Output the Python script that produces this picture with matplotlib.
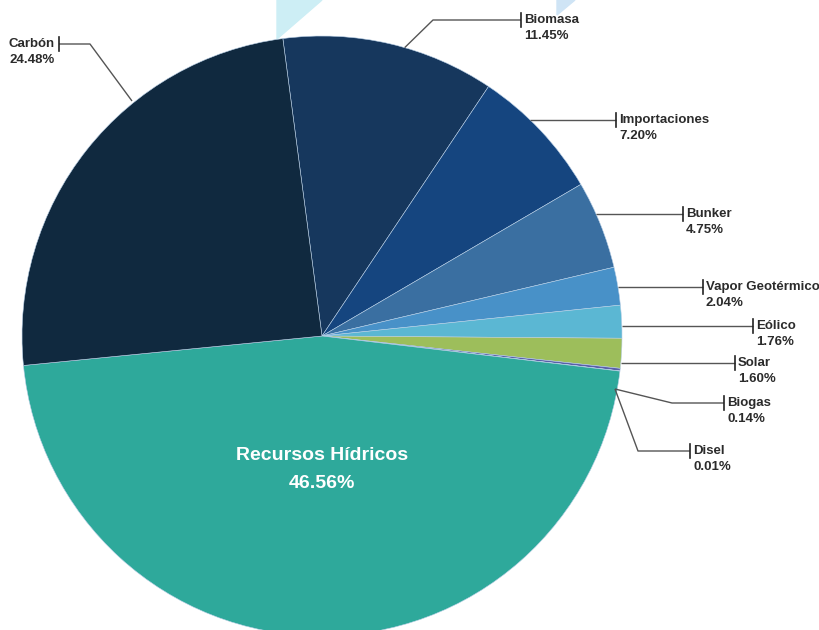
import numpy as np
import matplotlib.pyplot as plt
from matplotlib.patches import Polygon

# Generation mix shares (%)
labels = ['Biomasa', 'Importaciones', 'Bunker', 'Vapor Geotérmico', 'Eólico',
          'Solar', 'Biogas', 'Disel', 'Recursos Hídricos', 'Carbón']
values = [11.45, 7.20, 4.75, 2.04, 1.76, 1.60, 0.14, 0.01, 46.56, 24.48]
colors = ['#16375d', '#15457f', '#3a6fa1', '#4891c8', '#5bb7d3',
          '#9dbe5b', '#5a5fa8', '#3f6fa0', '#2ea99b', '#10293f']

W, H = 819, 630
CX, CY, R = 322, 336, 300   # pie centre / radius in pixels (y from top)
START = 97.5


def py(y):
    # pixel row (from top) -> data y
    return H - y


fig = plt.figure(figsize=(W / 100, H / 100), dpi=100)
ax = fig.add_axes([0, 0, 1, 1])

# light cyan decorations behind the pie
ax.add_patch(Polygon([(277, py(0)), (277, py(39)), (322, py(0))],
                     closed=True, color='#cdeef5', zorder=0))
ax.add_patch(Polygon([(557, py(0)), (557, py(15)), (575, py(0))],
                     closed=True, color='#cfe4f5', zorder=0))

wedges, _ = ax.pie(values, colors=colors, startangle=START, counterclock=False,
                   center=(CX, py(CY)), radius=R, frame=True,
                   wedgeprops=dict(edgecolor='#b8cfe6', linewidth=0.4))
ax.set_xlim(0, W)
ax.set_ylim(0, H)
ax.set_aspect('equal')
ax.axis('off')

font = ['Liberation Sans', 'DejaVu Sans']
txt_color = '#2b2b2b'


def edge_at_y(y):
    # right-hand pie edge at pixel row y
    return CX + np.sqrt(R ** 2 - (y - CY) ** 2)


def edge_at_angle(a):
    t = np.deg2rad(a)
    return CX + R * np.cos(t), CY - R * np.sin(t)


# label layout: (start point, elbow or None, tick x, line y, side)
layout = {
    'Biomasa': (edge_at_angle(74), (433, 20), 521, 20, 'r'),
    'Importaciones': ((edge_at_y(120), 120), None, 616, 120, 'r'),
    'Bunker': ((edge_at_y(214), 214), None, 683, 214, 'r'),
    'Vapor Geotérmico': ((edge_at_y(287), 287), None, 703, 287, 'r'),
    'Eólico': ((edge_at_y(326), 326), None, 753, 326, 'r'),
    'Solar': ((edge_at_y(363), 363), None, 735, 363, 'r'),
    'Biogas': ((615, 389), (672, 403), 724, 403, 'r'),
    'Disel': ((615, 389), (638, 451), 690, 451, 'r'),
    'Carbón': ((132, 101), (90, 44), 59, 44, 'l'),
}

for name, val in zip(labels, values):
    if name not in layout:
        continue
    start, elbow, tx, ly, side = layout[name]
    pts = [start] + ([elbow] if elbow else []) + [(tx, ly)]
    xs = [p[0] for p in pts]
    ys = [py(p[1]) for p in pts]
    ax.plot(xs, ys, color='#555555', lw=1, solid_capstyle='butt', zorder=3)
    ax.plot([tx, tx], [py(ly - 7), py(ly + 7)], color='#222222', lw=1.2, zorder=3)
    if side == 'r':
        x0, ha = tx + 3, 'left'
    else:
        x0, ha = tx - 4, 'right'
    ax.text(x0, py(ly), name, ha=ha, va='center', fontsize=9.5, fontweight='bold',
            family=font, color=txt_color)
    ax.text(x0, py(ly + 16), f'{val:.2f}%', ha=ha, va='center', fontsize=9.5,
            fontweight='bold', family=font, color=txt_color)

# big label inside the hydro slice
hyd = labels.index('Recursos Hídricos')
ax.text(322, py(456), labels[hyd], ha='center', va='center', fontsize=14,
        fontweight='bold', family=font, color='white')
ax.text(322, py(484), f'{values[hyd]:.2f}%', ha='center', va='center', fontsize=14,
        fontweight='bold', family=font, color='white')

fig.savefig('out.png', dpi=100)
